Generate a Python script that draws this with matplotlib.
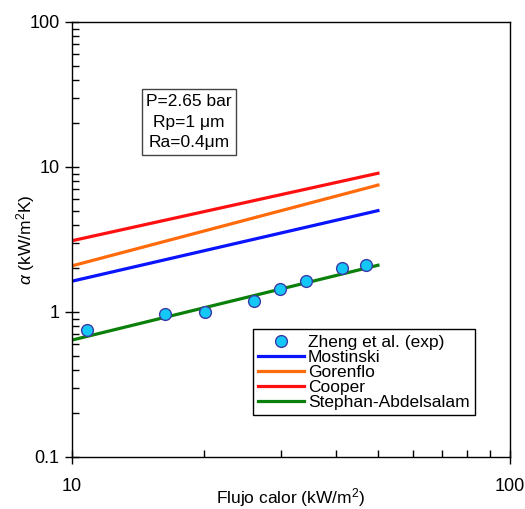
import matplotlib
matplotlib.use("Agg")
import matplotlib.pyplot as plt
from matplotlib.ticker import LogLocator, NullFormatter, FixedLocator

plt.rcParams["font.family"] = ["Liberation Sans", "DejaVu Sans"]
plt.rcParams["mathtext.fontset"] = "custom"
plt.rcParams["mathtext.rm"] = "Liberation Sans"
plt.rcParams["mathtext.it"] = "Liberation Sans:italic"

# experimental points (Zheng et al.)
q_exp = [10.8, 16.3, 20.1, 26.1, 29.8, 34.3, 41.3, 46.9]
alpha_exp = [0.75, 0.97, 1.0, 1.2, 1.44, 1.64, 2.0, 2.1]

# correlations, endpoints at q = 10 and 50 kW/m2
q_corr = [10, 50]
mostinski = [1.63, 5.0]
gorenflo = [2.08, 7.5]
cooper = [3.1, 9.05]
stephan = [0.64, 2.1]

fig = plt.figure(figsize=(5.25, 5.09), dpi=100)
ax = fig.add_axes([0.1371, 0.1022, 0.8338, 0.8546])

ax.plot(q_exp, alpha_exp, "o", ms=8.5, mfc="#14c8f5", mec="#3a3aa8", mew=1.0,
        label="Zheng et al. (exp)", zorder=5)
ax.plot(q_corr, mostinski, color="#0a14ff", lw=2.3, label="Mostinski")
ax.plot(q_corr, gorenflo, color="#ff6a0a", lw=2.3, label="Gorenflo")
ax.plot(q_corr, cooper, color="#ff1010", lw=2.3, label="Cooper")
ax.plot(q_corr, stephan, color="#0a800a", lw=2.3, label="Stephan-Abdelsalam")

ax.set_xscale("log")
ax.set_yscale("log")
ax.set_xlim(10, 100)
ax.set_ylim(0.1, 100)

ax.xaxis.set_major_locator(FixedLocator([10, 100]))
ax.set_xticklabels(["10", "100"])
ax.xaxis.set_minor_locator(LogLocator(base=10, subs=range(2, 10)))
ax.xaxis.set_minor_formatter(NullFormatter())
ax.yaxis.set_major_locator(FixedLocator([0.1, 1, 10, 100]))
ax.set_yticklabels(["0.1", "1", "10", "100"])
ax.yaxis.set_minor_locator(LogLocator(base=10, subs=range(2, 10)))
ax.yaxis.set_minor_formatter(NullFormatter())

ax.tick_params(which="major", direction="inout", length=10, width=1, labelsize=13)
ax.tick_params(axis="x", which="major", pad=10)
ax.tick_params(axis="y", which="major", pad=4)
ax.tick_params(which="minor", direction="in", length=5, width=1)
for s in ax.spines.values():
    s.set_linewidth(1.0)

ax.set_xlabel("Flujo calor (kW/m$^2$)", fontsize=12.5)
ax.set_ylabel(r"$\alpha$ (kW/m$^2$K)", fontsize=12.5)
ax.xaxis.set_label_coords(0.5, -0.068)
ax.yaxis.set_label_coords(-0.08, 0.5)

ax.text(0.267, 0.770, "P=2.65 bar\nRp=1 μm\nRa=0.4μm", transform=ax.transAxes,
        ha="center", va="center", fontsize=12.5, linespacing=1.48,
        bbox=dict(boxstyle="square,pad=0.25", fc="white", ec="#444444", lw=1))

leg = ax.legend(loc="upper left", bbox_to_anchor=(0.414, 0.2936), borderaxespad=0,
                fontsize=12.5, frameon=True, fancybox=False, edgecolor="black",
                labelspacing=0.0, handlelength=2.6, handletextpad=0.25,
                borderpad=0.3, framealpha=1)
leg.get_frame().set_linewidth(1.0)

fig.savefig("out.png", dpi=100)
